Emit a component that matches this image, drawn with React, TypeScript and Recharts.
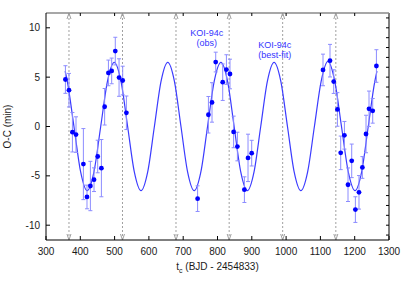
import {
  ComposedChart,
  Line,
  Scatter,
  ErrorBar,
  XAxis,
  YAxis,
  ReferenceLine,
  ReferenceDot,
} from "recharts";

// observed transit times (BJD - 2454833), O-C in minutes and 1-sigma errors
const obsT = [
  356.6, 367, 377, 387.5, 409, 419.5, 429.4, 440, 450.7, 461.5, 471, 482, 491.5, 502, 513, 523.6, 534.4,
  742, 773.5, 784, 794.8, 815.2, 826, 836.4, 847, 858, 878.4, 889, 899.7,
  1107.6, 1128, 1138.8, 1149.6, 1159.2, 1170, 1180.5, 1191.3, 1202, 1212.5, 1222.4, 1233, 1241.7, 1252.5, 1263.3,
];
const obsOC = [
  4.76, 3.68, -0.58, -0.82, -3.81, -7.14, -6.03, -5.39, -3.04, -4.22, 2.0, 5.43, 5.63, 7.64, 4.96, 4.66, 1.39,
  -7.31, 1.19, 2.44, 6.53, 4.49, 5.77, 5.32, -0.55, -2.03, -6.4, -3.18, -2.7,
  5.73, 6.67, 4.55, 1.73, -2.67, -0.89, -5.9, -3.48, -8.42, -6.67, -4.15, -0.76, 1.79, 1.59, 6.13,
];
const obsErr = [
  1.4, 1.7, 2.0, 1.8, 3.6, 1.2, 2.5, 1.2, 1.65, 2.9, 1.85, 1.3, 1.3, 1.4, 1.9, 1.45, 1.7,
  1.3, 1.85, 2.0, 1.0, 1.85, 1.5, 1.5, 1.6, 1.45, 1.3, 2.4, 1.3,
  1.6, 1.65, 1.2, 1.7, 1.7, 1.4, 1.7, 1.7, 1.3, 1.7, 1.1, 1.9, 1.8, 1.25, 1.65,
];

const fitT = [
  356, 362, 381.5, 401, 420, 439.8, 459.5, 479.3, 499, 518.5, 538, 557.5, 577, 596.5, 616, 635.5, 655,
  674.3, 693.5, 712.8, 732, 751.5, 771, 790.5, 810, 829.3, 848.5, 867.8, 887, 906.5, 926, 945.5, 965,
  984.5, 1004, 1023.5, 1043, 1062.8, 1082.5, 1102.3, 1122, 1141.8, 1161.5, 1181.3, 1201, 1220.3, 1239.5,
  1258.8, 1265,
];
const fitOC = [
  5.6, 4.6, 0, -4.6, -6.5, -4.6, 0, 4.6, 6.5, 4.6, 0, -4.6, -6.5, -4.6, 0, 4.6, 6.5,
  4.6, 0, -4.6, -6.5, -4.6, 0, 4.6, 6.5, 4.6, 0, -4.6, -6.5, -4.6, 0, 4.6, 6.5,
  4.6, 0, -4.6, -6.5, -4.6, 0, 4.6, 6.6, 4.6, 0, -4.6, -6.5, -4.6, 0,
  4.6, 5.6,
];

// dashed arrows
const markT = [367, 523, 679, 834, 990, 1145];

const xTicks = [300, 400, 500, 600, 700, 800, 900, 1000, 1100, 1200, 1300];
const yTicks = [-11, -10, -9, -8, -7, -6, -5, -4, -3, -2, -1, 0, 1, 2, 3, 4, 5, 6, 7, 8, 9, 10, 11];

const obs = obsT.map((t, i) => ({ t, oc: obsOC[i], err: obsErr[i] }));
const fit = fitT.map((t, i) => ({ t, oc: fitOC[i] }));

const PLOT_TOP = 13;
const PLOT_RIGHT = 389;
const FONT = "'Liberation Sans', Arial, sans-serif";
const TXT = "#1a1a1a";
const LABEL_BLUE = "#3535ff";

const XTick = ({ x, y, payload }: any) => {
  const v = payload.value;
  return (
    <g>
      <line x1={x} y1={y} x2={x} y2={y - 4} stroke="#000" />
      {v > 300 && v < 1300 && (
        <line x1={x} y1={PLOT_TOP} x2={x} y2={PLOT_TOP + 3} stroke="#000" />
      )}
      <text x={x} y={y + 15} textAnchor="middle" fontSize={10} fill={TXT} fontFamily={FONT}>
        {v}
      </text>
    </g>
  );
};

const YTick = ({ x, y, payload }: any) => {
  const v = payload.value;
  const major = v % 5 === 0;
  return (
    <g>
      {major && <line x1={x} y1={y} x2={x + 4} y2={y} stroke="#000" />}
      <line x1={PLOT_RIGHT} y1={y} x2={PLOT_RIGHT - 3} y2={y} stroke="#000" />
      {major && (
        <text x={x - 6} y={y + 3.5} textAnchor="end" fontSize={10} fill={TXT} fontFamily={FONT}>
          {v}
        </text>
      )}
    </g>
  );
};

const XLabel = (props: any) => {
  const vb = props.viewBox || { x: 46, y: 240, width: 343 };
  return (
    <text x={vb.x + vb.width / 2} y={vb.y + 30} textAnchor="middle" fontSize={10} fill={TXT} fontFamily={FONT}>
      t<tspan dy={3} fontSize={7}>c</tspan>
      <tspan dy={-3}> (BJD - 2454833)</tspan>
    </text>
  );
};

const YLabel = (props: any) => {
  const vb = props.viewBox || { x: 0, y: 13, height: 227 };
  const cy = vb.y + vb.height / 2;
  return (
    <text
      x={11}
      y={cy}
      transform={`rotate(-90 11 ${cy})`}
      textAnchor="middle"
      fontSize={10}
      fill={TXT}
      fontFamily={FONT}
    >
      O-C (min)
    </text>
  );
};

const Arrow = (p: any) => {
  const { x1, y1, y2 } = p;
  return (
    <g stroke="#a0a0a0" fill="none" strokeWidth={1}>
      <line x1={x1} y1={y1} x2={x1} y2={y2} strokeDasharray="2 2" />
      <polyline points={`${x1 - 2},${y2 + 6} ${x1},${y2} ${x1 + 2},${y2 + 6}`} />
      <polyline points={`${x1 - 2},${y1 - 6} ${x1},${y1} ${x1 + 2},${y1 - 6}`} />
    </g>
  );
};

const twoLines = (a: string, b: string) => (p: any) => (
  <text x={p.cx} y={p.cy + 3.3} textAnchor="middle" fontSize={9} fill={LABEL_BLUE} fontFamily={FONT}>
    <tspan x={p.cx}>{a}</tspan>
    <tspan x={p.cx} dy={10.2}>{b}</tspan>
  </text>
);

const Dot = (p: any) => <circle cx={p.cx} cy={p.cy} r={2.4} fill="#0000ff" />;

export default function App() {
  return (
    <div style={{ position: "absolute", left: 0, top: 0, width: 409, height: 286, background: "#fff" }}>
      <ComposedChart width={409} height={286} margin={{ top: 13, right: 20, left: 0, bottom: 0 }}>
        <XAxis
          dataKey="t"
          type="number"
          domain={[300, 1300]}
          allowDataOverflow
          ticks={xTicks}
          interval={0}
          tickSize={0}
          tickMargin={0}
          tickLine={false}
          tick={<XTick />}
          height={46}
          axisLine={{ stroke: "#000" }}
          label={XLabel}
        />
        <YAxis
          type="number"
          domain={[-11.5, 11.5]}
          allowDataOverflow
          ticks={yTicks}
          interval={0}
          tickSize={0}
          tickMargin={0}
          tickLine={false}
          tick={<YTick />}
          width={46}
          axisLine={{ stroke: "#000" }}
          label={YLabel}
        />
        {markT.map((t) => (
          <ReferenceLine key={t} x={t} ifOverflow="visible" shape={Arrow} />
        ))}
        <Line
          data={fit}
          dataKey="oc"
          type="monotone"
          stroke="#3b3bff"
          strokeWidth={1.2}
          dot={false}
          activeDot={false}
          isAnimationActive={false}
        />
        <Scatter data={obs} dataKey="oc" shape={Dot} isAnimationActive={false}>
          <ErrorBar dataKey="err" direction="y" width={2} stroke="#8c8cff" strokeWidth={1} />
        </Scatter>
        <ReferenceLine x={1300} stroke="#000" ifOverflow="visible" />
        <ReferenceLine y={11.5} stroke="#8a8a8a" strokeWidth={1.6} ifOverflow="visible" />
        <ReferenceDot x={768.5} y={9.52} r={0} ifOverflow="visible" shape={twoLines("KOI-94c", "(obs)")} />
        <ReferenceDot x={966.8} y={8.33} r={0} ifOverflow="visible" shape={twoLines("KOI-94c", "(best-fit)")} />
      </ComposedChart>
    </div>
  );
}
